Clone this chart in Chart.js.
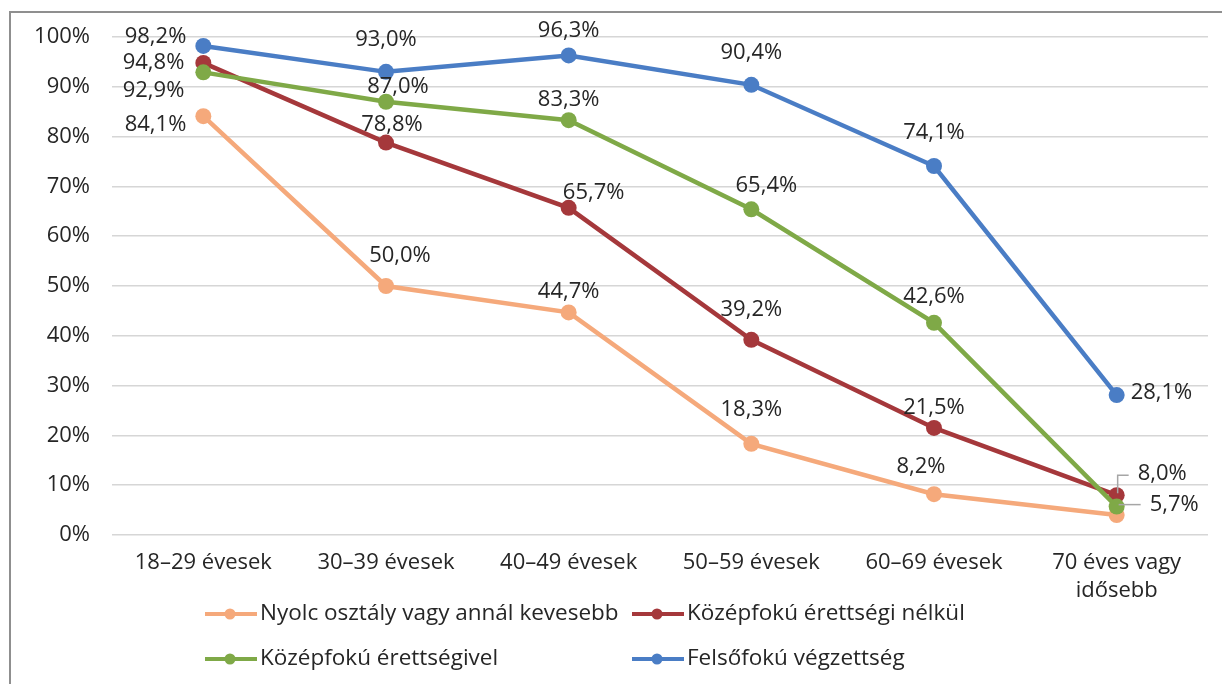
<!DOCTYPE html>
<html lang="hu">
<head>
<meta charset="UTF-8">
<title>Korcsoportok</title>
<script src="https://cdn.jsdelivr.net/npm/chart.js"></script>
<style>
  body { margin: 0; padding: 0; background: #fff; }
  #wrap { width: 1222px; height: 684px; position: relative; }
</style>
</head>
<body>
<div id="wrap"><canvas id="chart"></canvas></div>
<script>
  // categories + values
  const categories = ['18–29 évesek', '30–39 évesek', '40–49 évesek', '50–59 évesek', '60–69 évesek', ['70 éves vagy', 'idősebb']];
  const seriesNames = ['Nyolc osztály vagy annál kevesebb', 'Középfokú érettségi nélkül', 'Középfokú érettségivel', 'Felsőfokú végzettség'];
  const nyolcOsztaly = [84.1, 50.0, 44.7, 18.3, 8.2, 4.0];
  const erettsegiNelkul = [94.8, 78.8, 65.7, 39.2, 21.5, 8.0];
  const erettsegivel = [92.9, 87.0, 83.3, 65.4, 42.6, 5.7];
  const felsofoku = [98.2, 93.0, 96.3, 90.4, 74.1, 28.1];
  const yTicks = [0, 10, 20, 30, 40, 50, 60, 70, 80, 90, 100];

  const colors = ['#F5A97B', '#A5383B', '#7FA947', '#4A7DC5'];

  // label placement relative to each point: [dx, dy, align, leader]
  const labelPos = [
    [[-17, 9, 'right'], [14, -30, 'center'], [0, -21, 'center'], [0, -34, 'center'], [-13, -27, 'center'], null],
    [[-19, 0, 'right'], [6, -18, 'center'], [25, -15, 'center'], [0, -30, 'center'], [0, -20, 'center'], [21, -21, 'left', 'up']],
    [[-19, 18, 'right'], [12, -15, 'center'], [0, -20, 'center'], [15, -24, 'center'], [0, -26, 'center'], [33, -2, 'left', 'side']],
    [[-17, -9, 'right'], [0, -32, 'center'], [0, -25, 'center'], [0, -32, 'center'], [0, -33, 'center'], [14, -2, 'left']]
  ];

  const txtFont = "22px 'Open Sans', sans-serif";
  const txtColor = '#262626';

  const fmt = v => v.toFixed(1).replace('.', ',') + '%';

  const framePlugin = {
    id: 'frame',
    beforeDraw(chart) {
      const ctx = chart.ctx;
      ctx.save();
      ctx.strokeStyle = '#8f8f8f';
      ctx.lineWidth = 2;
      ctx.beginPath();
      ctx.moveTo(10, 684);
      ctx.lineTo(10, 12);
      ctx.lineTo(1222, 12);
      ctx.stroke();
      ctx.restore();
    }
  };

  const labelPlugin = {
    id: 'valueLabels',
    afterDatasetsDraw(chart) {
      const ctx = chart.ctx;
      ctx.save();
      ctx.font = txtFont;
      ctx.fillStyle = txtColor;
      ctx.textBaseline = 'middle';
      chart.data.datasets.forEach((ds, di) => {
        const meta = chart.getDatasetMeta(di);
        meta.data.forEach((pt, i) => {
          const lp = labelPos[di][i];
          if (!lp) return;
          const x = pt.x + lp[0], y = pt.y + lp[1];
          if (lp[3]) {
            ctx.save();
            ctx.strokeStyle = '#a6a6a6';
            ctx.lineWidth = 1.5;
            ctx.beginPath();
            if (lp[3] == 'up') {
              ctx.moveTo(pt.x + 1, pt.y - 2);
              ctx.lineTo(pt.x + 1, y + 1);
              ctx.lineTo(x - 9, y + 1);
            } else {
              ctx.moveTo(pt.x + 2, y);
              ctx.lineTo(x - 9, y);
            }
            ctx.stroke();
            ctx.restore();
          }
          ctx.textAlign = lp[2];
          ctx.fillText(fmt(ds.data[i]), x, y);
        });
      });
      ctx.restore();
    }
  };

  // legend drawn by hand so the two columns line up like the original
  const legendPlugin = {
    id: 'gridLegend',
    afterDraw(chart) {
      const ctx = chart.ctx;
      const cols = [205, 632];
      const rows = [614, 659];
      ctx.save();
      chart.data.datasets.forEach((ds, i) => {
        const x = cols[i % 2], y = rows[Math.floor(i / 2)];
        ctx.strokeStyle = ds.borderColor;
        ctx.fillStyle = ds.borderColor;
        ctx.lineWidth = 4;
        ctx.beginPath();
        ctx.moveTo(x, y);
        ctx.lineTo(x + 52, y);
        ctx.stroke();
        ctx.beginPath();
        ctx.arc(x + 25, y, 5.5, 0, Math.PI * 2);
        ctx.fill();
        ctx.font = "22.5px 'Open Sans', sans-serif";
        ctx.fillStyle = txtColor;
        ctx.textBaseline = 'middle';
        ctx.textAlign = 'left';
        ctx.fillText(ds.label, x + 55, y);
      });
      ctx.restore();
    }
  };

  function makeSet(i, data) {
    return {
      label: seriesNames[i],
      data: data,
      borderColor: colors[i],
      backgroundColor: colors[i],
      borderWidth: 4.5,
      pointRadius: 8,
      pointBorderWidth: 0,
      pointBackgroundColor: colors[i],
      tension: 0,
      fill: false,
      order: 4 - i
    };
  }

  const ctx = document.getElementById('chart').getContext('2d');
  new Chart(ctx, {
    type: 'line',
    data: {
      labels: categories,
      datasets: [
        makeSet(0, nyolcOsztaly),
        makeSet(1, erettsegiNelkul),
        makeSet(2, erettsegivel),
        makeSet(3, felsofoku)
      ]
    },
    options: {
      responsive: true,
      maintainAspectRatio: false,
      animation: false,
      layout: { padding: { left: 0, top: 37, right: 14, bottom: 79 } },
      scales: {
        x: {
          offset: true,
          grid: { display: false, drawTicks: false },
          border: { display: false },
          ticks: {
            color: txtColor,
            font: { family: "'Open Sans', sans-serif", size: 22, lineHeight: 1.25 },
            padding: 14,
            maxRotation: 0,
            autoSkip: false
          },
          afterFit(s) { s.height = 70; }
        },
        y: {
          min: 0,
          max: 100,
          afterBuildTicks(s) { s.ticks = yTicks.map(v => ({ value: v })); },
          grid: { color: '#d6d6d6', lineWidth: 1.6, drawTicks: false },
          border: { display: false },
          ticks: {
            color: txtColor,
            font: { family: "'Open Sans', sans-serif", size: 22 },
            padding: 22,
            callback: v => v + '%'
          },
          afterFit(s) { s.width = 112; }
        }
      },
      plugins: {
        legend: { display: false },
        tooltip: { enabled: false }
      }
    },
    plugins: [framePlugin, labelPlugin, legendPlugin]
  });
</script>
</body>
</html>
